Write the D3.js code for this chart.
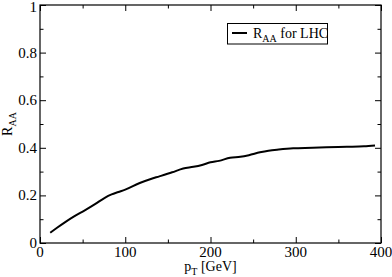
<!DOCTYPE html>
<html><head><meta charset="utf-8">
<script src="https://cdn.jsdelivr.net/npm/d3@7"></script>
<style>body{margin:0;background:#fff}svg{display:block}text{font-family:"Liberation Serif","Times New Roman",serif;fill:#000}</style>
</head><body>
<script>
const pT = [12,20,30,40,53,65,76,84,92,100,117,130,140,155,168,180,190,200,210,223,235,245,258,268,280,297,320,336,360,380,393];
const RAA = [0.043,0.064,0.089,0.112,0.138,0.164,0.190,0.204,0.214,0.224,0.252,0.269,0.280,0.297,0.313,0.320,0.328,0.339,0.345,0.358,0.362,0.369,0.381,0.388,0.393,0.398,0.400,0.402,0.404,0.406,0.410];
const xMajor = [0,100,200,300,400];
const xMinor = [50,150,250,350];
const yMajor = [0,0.2,0.4,0.6,0.8,1];
const yMinor = [0.1,0.3,0.5,0.7,0.9];
const yTickLabels = ["0","0.2","0.4","0.6","0.8","1"];

const W=392,H=277, L=40,R=381,T=5,B=243;
const svg=d3.select("body").append("svg").attr("width",W).attr("height",H);
const x=d3.scaleLinear().domain([0,400]).range([L,R]);
const y=d3.scaleLinear().domain([0,1]).range([B,T]);

function axis(gen, scale, vals, size, tr){
  const g=svg.append("g").attr("transform",tr)
    .call(gen(scale).tickValues(vals).tickSizeInner(size).tickSizeOuter(0).tickFormat(""));
  g.select(".domain").remove();
  g.selectAll("line").attr("stroke","#000").attr("stroke-width",1);
  return g;
}
axis(d3.axisTop, x, xMajor, 6, `translate(0,${B})`);
axis(d3.axisTop, x, xMinor, 3.5, `translate(0,${B})`);
axis(d3.axisBottom, x, xMajor, 6, `translate(0,${T})`);
axis(d3.axisBottom, x, xMinor, 3.5, `translate(0,${T})`);
axis(d3.axisRight, y, yMajor, 6, `translate(${L},0)`);
axis(d3.axisRight, y, yMinor, 3.5, `translate(${L},0)`);
axis(d3.axisLeft, y, yMajor, 6, `translate(${R},0)`);
axis(d3.axisLeft, y, yMinor, 3.5, `translate(${R},0)`);

// tick labels
svg.append("g").selectAll("text").data(xMajor).join("text")
  .attr("x",d=>x(d)).attr("y",B+14).attr("text-anchor","middle").style("font-size","15px").text(d=>d);
svg.append("g").selectAll("text").data(yMajor).join("text")
  .attr("x",L-3).attr("y",d=>Math.max(y(d)+5,12)).attr("text-anchor","end").style("font-size","15px").text((d,i)=>yTickLabels[i]);

svg.append("rect").attr("x",L).attr("y",T).attr("width",R-L).attr("height",B-T)
  .attr("fill","none").attr("stroke","#000").attr("stroke-width",1.2);

// curve
svg.append("path").datum(pT.map((d,i)=>[d,RAA[i]]))
  .attr("d",d3.line().x(d=>x(d[0])).y(d=>y(d[1])).curve(d3.curveMonotoneX))
  .attr("fill","none").attr("stroke","#000").attr("stroke-width",2);

// x title
const xt=svg.append("text").attr("x",(L+R)/2).attr("y",271).attr("text-anchor","middle").style("font-size","14px");
xt.append("tspan").text("p");
xt.append("tspan").attr("dy",4).style("font-size","10px").text("T");
xt.append("tspan").attr("dy",-4).text(" [GeV]");

// y title
const yt=svg.append("text").attr("transform",`translate(12,${(T+B)/2}) rotate(-90)`).attr("text-anchor","middle").style("font-size","14px");
yt.append("tspan").text("R");
yt.append("tspan").attr("dy",4).style("font-size","10px").text("AA");

// legend
svg.append("rect").attr("x",227.5).attr("y",23.5).attr("width",100).attr("height",20.5)
  .attr("fill","#fff").attr("stroke","#000").attr("stroke-width",1);
svg.append("line").attr("x1",232).attr("x2",247).attr("y1",33).attr("y2",33).attr("stroke","#000").attr("stroke-width",2);
const lt=svg.append("text").attr("x",253).attr("y",38).style("font-size","14px");
lt.append("tspan").text("R");
lt.append("tspan").attr("dy",4).style("font-size","10px").text("AA");
lt.append("tspan").attr("dy",-4).text(" for LHC");
</script>
</body></html>
